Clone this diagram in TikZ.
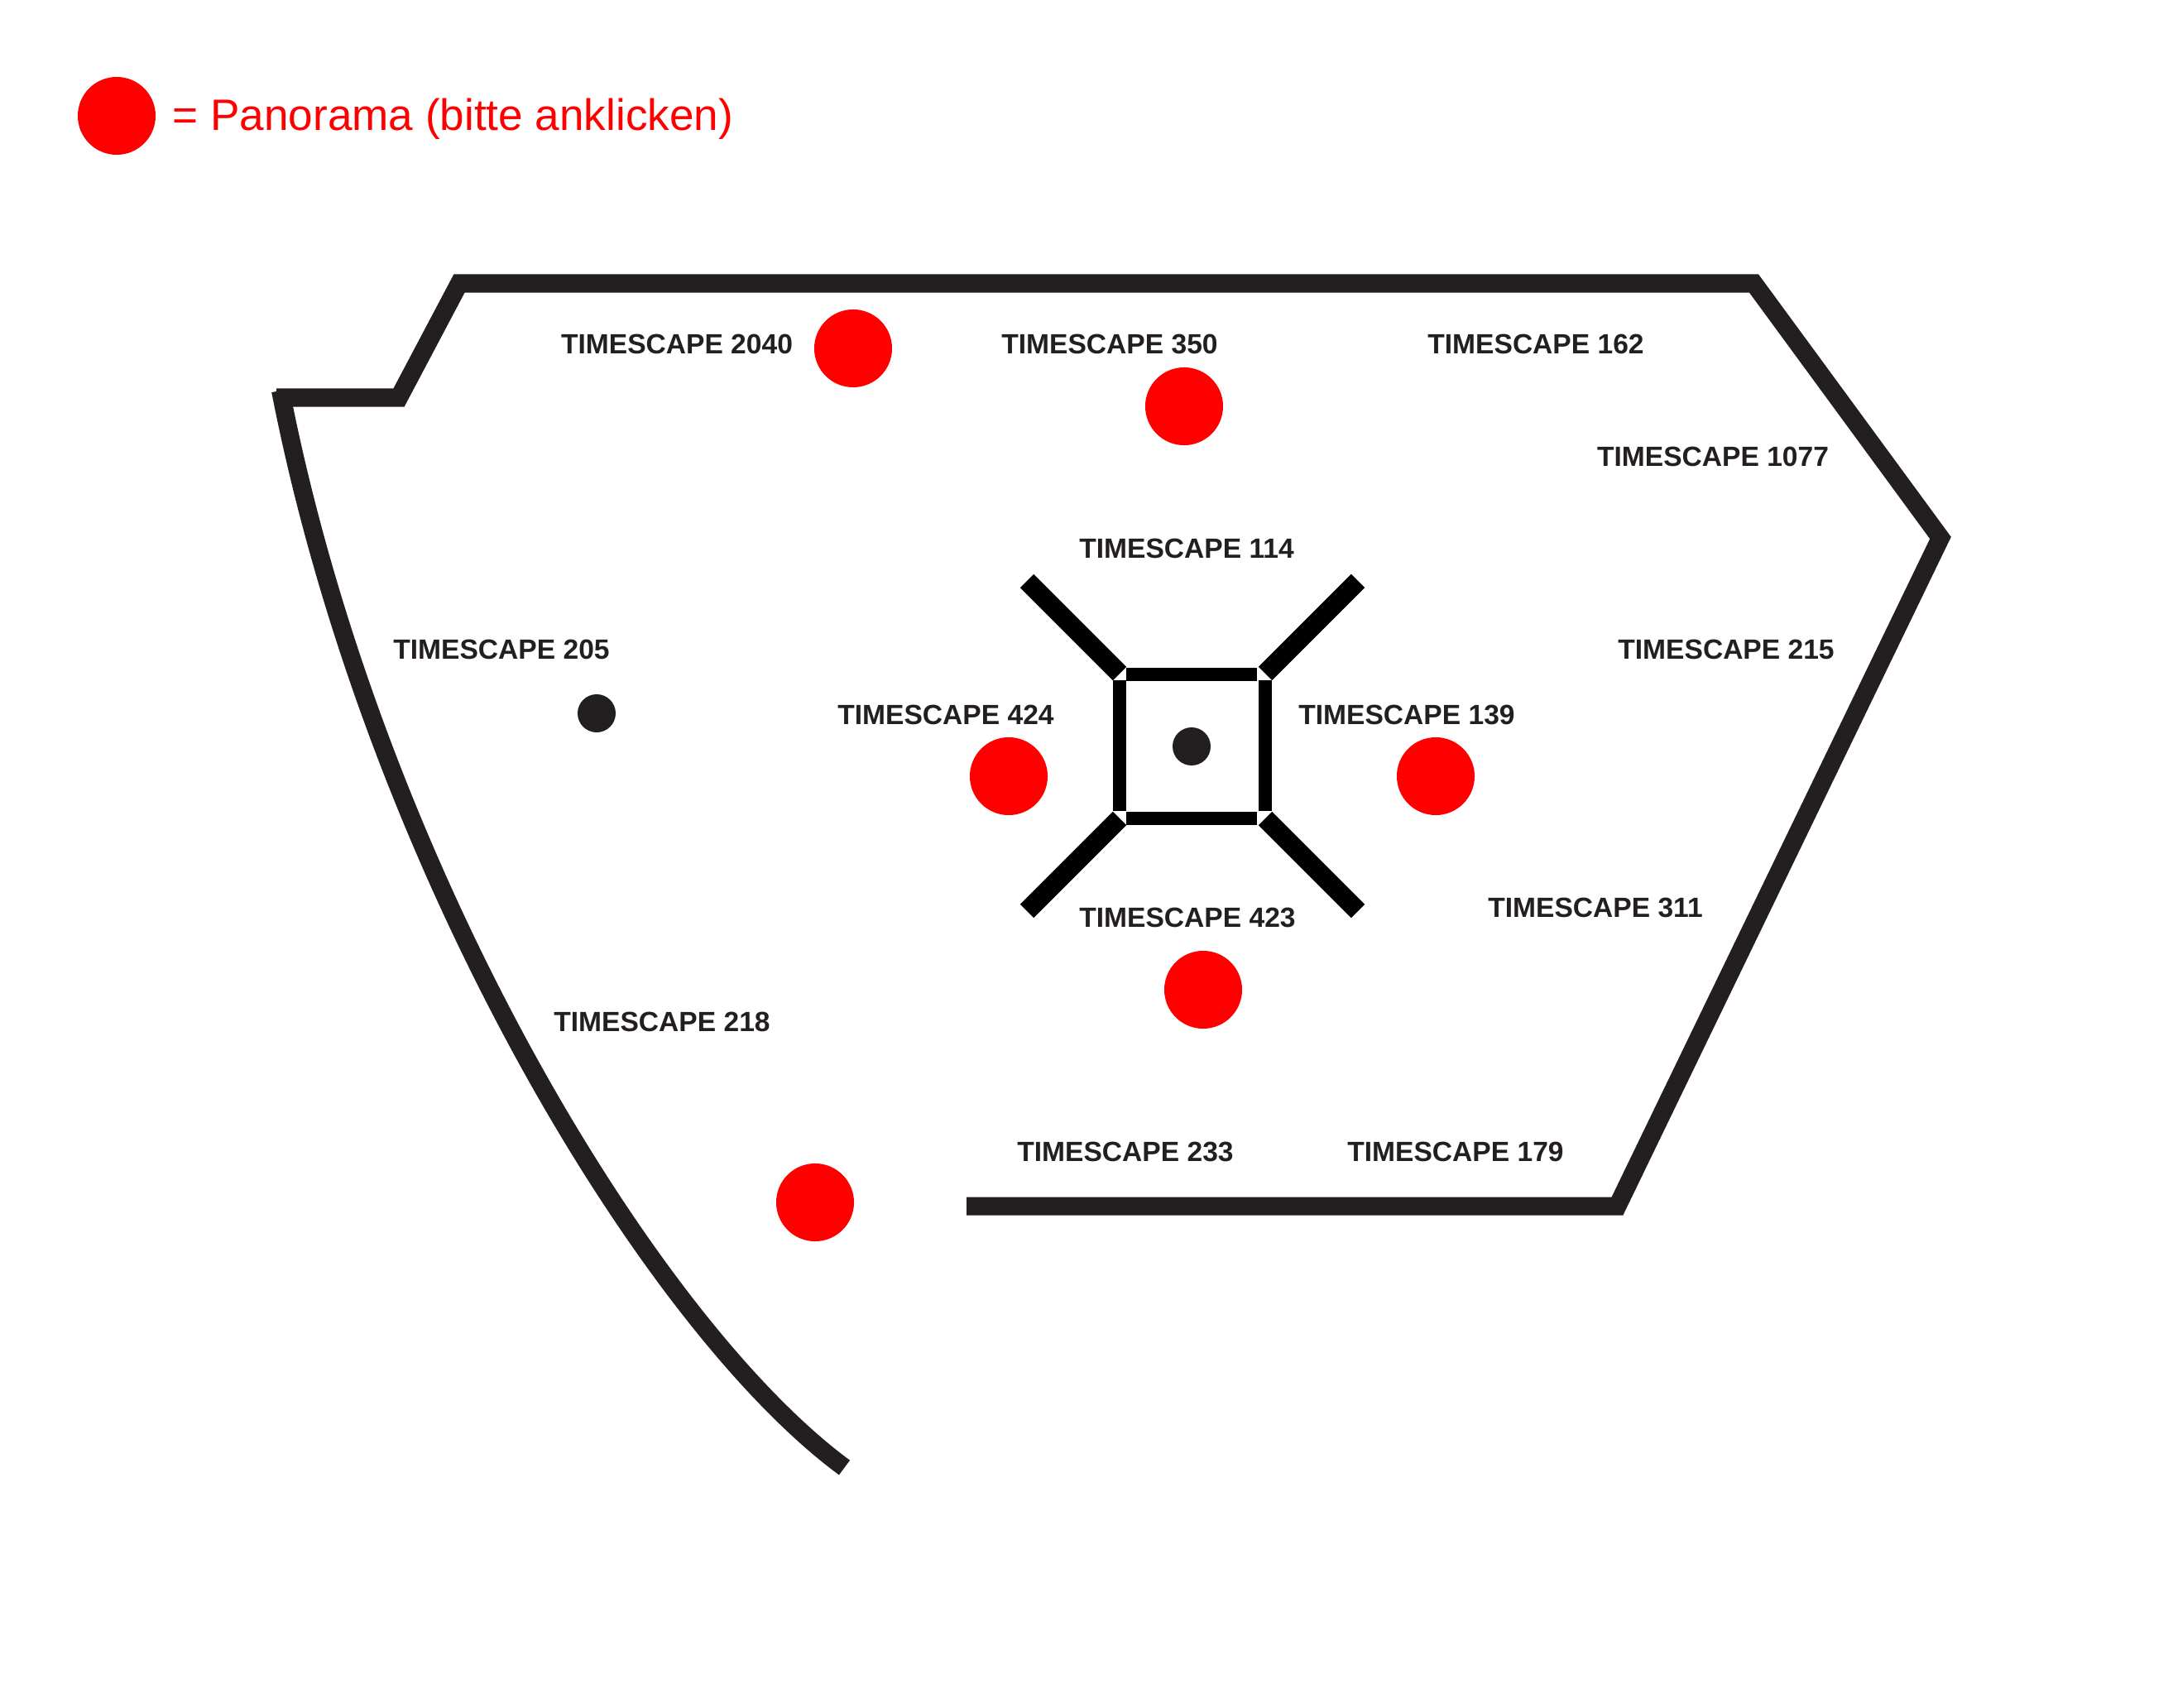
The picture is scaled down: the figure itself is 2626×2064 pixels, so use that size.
\documentclass[tikz,border=0pt]{standalone}
\usepackage{fontspec}
\usepackage{tikz}
\usetikzlibrary{calc}
\setmainfont{Liberation Sans}
\definecolor{wallgray}{HTML}{231F20}
\def\drawwall{\draw[color=wallgray, line width=22*0.2845pt, miter limit=10]}
\def\drawbar{\draw[color=black, line width=15.5*0.2845pt]}
\def\panonode{\node[circle,fill=red,inner sep=0pt,minimum size=94*0.2845pt]}
\def\dotnode{\node[circle,fill=wallgray,inner sep=0pt,minimum size=46*0.2845pt]}
\def\shopnode{\node[text=wallgray,font=\fontsize{9.55pt}{12pt}\selectfont\bfseries,inner sep=0pt]}

\begin{document}
\begin{tikzpicture}[x=0.01cm,y=-0.01cm]
\useasboundingbox (0,0) rectangle (2626,2064);

% Legend
\panonode (legend) at (141,140) {};
\node[anchor=base west,text=red,font=\fontsize{15.1pt}{18pt}\selectfont,inner sep=0pt] (legend_text) at (208,157.7) {= Panorama (bitte anklicken)};

% Outer walls
\coordinate (step_left) at (334,480.5);
\coordinate (step_mid) at (482,480.5);
\coordinate (top_left) at (555,342.5);
\coordinate (top_right) at (2119.5,342.5);
\coordinate (right_tip) at (2345,650);
\coordinate (bottom_right) at (1954.5,1457.5);
\coordinate (bottom_left) at (1168,1457.5);
\coordinate (curve_top) at (339,472);
\coordinate (curve_end) at (1020.5,1773.5);
\drawwall (step_left) -- (step_mid) -- (top_left) -- (top_right) -- (right_tip) -- (bottom_right) -- (bottom_left);
\drawwall (curve_top) .. controls (452,1050) and (785,1600) .. (curve_end);

% Square in the middle, coordinates are relative to (o)
\coordinate (o) at (1440,902);
\drawbar ($ (o) + (-79,-87) $) -- ($ (o) + (79,-87) $);
\drawbar ($ (o) + (-79,87) $) -- ($ (o) + (79,87) $);
\drawbar ($ (o) + (-87,-80) $) -- ($ (o) + (-87,78) $);
\drawbar ($ (o) + (89,-80) $) -- ($ (o) + (89,78) $);
\drawbar[line width=23*0.2845pt] ($ (o) + (-199,-200) $) -- ($ (o) + (-87,-88) $);
\drawbar[line width=23*0.2845pt] ($ (o) + (201,-200) $) -- ($ (o) + (89,-88) $);
\drawbar[line width=23*0.2845pt] ($ (o) + (-199,199) $) -- ($ (o) + (-87,87) $);
\drawbar[line width=23*0.2845pt] ($ (o) + (201,199) $) -- ($ (o) + (89,87) $);

% Dots
\dotnode (dot_center) at (o) {};
\dotnode (dot_left) at (721,862) {};
\panonode (pano_a) at (1031,421) {};
\panonode (pano_b) at (1431,491) {};
\panonode (pano_c) at (1219,938) {};
\panonode (pano_d) at (1735,938) {};
\panonode (pano_e) at (1454,1196) {};
\panonode (pano_f) at (985,1453) {};

% Labels
\shopnode (t2040) at (818,416) {TIMESCAPE 2040};
\shopnode (t350) at (1341,416) {TIMESCAPE 350};
\shopnode (t162) at (1856,416) {TIMESCAPE 162};
\shopnode (t1077) at (2070,552) {TIMESCAPE 1077};
\shopnode (t114) at (1434,663) {TIMESCAPE 114};
\shopnode (t205) at (606,785) {TIMESCAPE 205};
\shopnode (t215) at (2086,785) {TIMESCAPE 215};
\shopnode (t424) at (1143,864) {TIMESCAPE 424};
\shopnode (t139) at (1700,864) {TIMESCAPE 139};
\shopnode (t311) at (1928,1097) {TIMESCAPE 311};
\shopnode (t423) at (1435,1109) {TIMESCAPE 423};
\shopnode (t218) at (800,1235) {TIMESCAPE 218};
\shopnode (t233) at (1360,1392) {TIMESCAPE 233};
\shopnode (t179) at (1759,1392) {TIMESCAPE 179};
\end{tikzpicture}
\end{document}
